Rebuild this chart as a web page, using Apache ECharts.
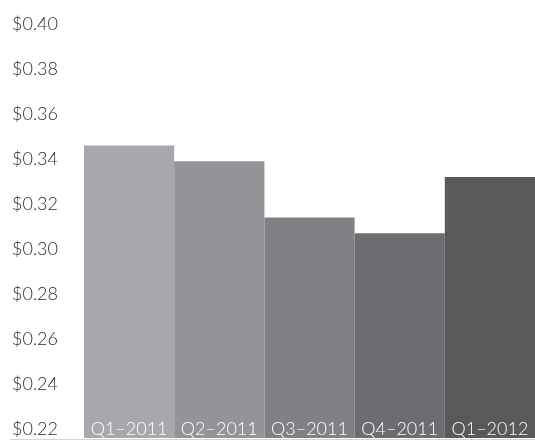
<!DOCTYPE html>
<html>
<head>
<meta charset="utf-8">
<script src="https://cdn.jsdelivr.net/npm/echarts@6/dist/echarts.min.js"></script>
<style>
html,body{margin:0;padding:0;background:#fff;}
#c{width:535px;height:441px;}
</style>
</head>
<body>
<div id="c"></div>
<script>
const categories = ['Q1–2011', 'Q2–2011', 'Q3–2011', 'Q4–2011', 'Q1–2012'];
const values = [0.350, 0.343, 0.318, 0.311, 0.336];
const barColors = ['#a7a8ab', '#939498', '#808185', '#6c6d71', '#58595b'];
const yMin = 0.22, yMax = 0.40, yStep = 0.02;

const FONT = 'Lato';
const chart = echarts.init(document.getElementById('c'), null, {renderer: 'canvas'});
chart.setOption({
  animation: false,
  backgroundColor: '#fff',
  grid: {left: 84, right: 0, top: 33, bottom: 3, containLabel: false},
  xAxis: {
    type: 'category',
    data: categories,
    axisLine: {show: false},
    axisTick: {show: false},
    axisLabel: {show: false}
  },
  yAxis: {
    type: 'value',
    min: yMin, max: yMax, interval: yStep,
    splitLine: {show: false},
    axisLine: {show: false},
    axisTick: {show: false},
    axisLabel: {
      margin: 72,
      align: 'left',
      verticalAlign: 'bottom',
      color: '#2b2b2b',
      fontFamily: FONT,
      fontWeight: 300,
      fontSize: 18,
      formatter: v => '$' + v.toFixed(2)
    }
  },
  series: [{
    type: 'bar',
    barCategoryGap: 0,
    data: values.map((v, i) => ({value: v, itemStyle: {color: barColors[i]}})),
    label: {
      show: true,
      position: 'insideBottom',
      distance: 0,
      color: '#fff',
      fontFamily: FONT,
      fontWeight: 300,
      fontSize: 18,
      formatter: p => p.name
    }
  }],
  graphic: [{
    type: 'line',
    shape: {x1: 10, y1: 439.5, x2: 535, y2: 439.5},
    style: {stroke: '#d4d4d4', lineWidth: 1},
    z: 10
  }]
});
</script>
</body>
</html>
